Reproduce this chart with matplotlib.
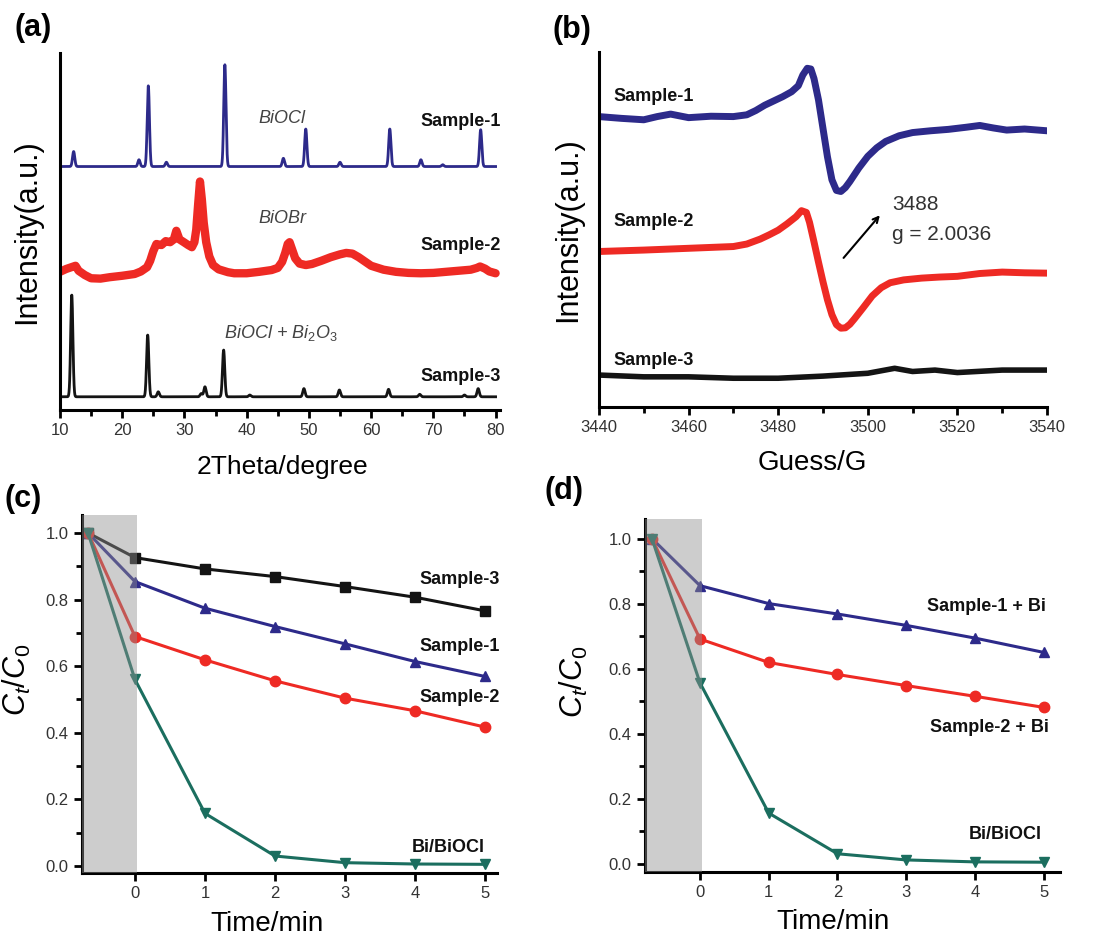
import numpy as np
import matplotlib.pyplot as plt
from matplotlib.ticker import MultipleLocator

plt.rcParams['font.family'] = ['Liberation Sans', 'DejaVu Sans']
plt.rcParams['mathtext.fontset'] = 'custom'
plt.rcParams['mathtext.rm'] = 'Liberation Sans'
plt.rcParams['mathtext.it'] = 'Liberation Sans:italic'

BLUE = '#2d2a8a'
RED = '#ee2a24'
BLACK = '#141414'
TEAL = '#1b6e5f'

# ---- (a) XRD: peak positions / heights ----
s1_base = 68.2
s1_pos = [12.2, 22.7, 24.2, 27.1, 36.5, 45.9, 49.5, 55.0, 63.0, 68.0, 71.5, 77.6]
s1_h = [4.2, 1.9, 22.6, 1.2, 28.5, 2.3, 10.5, 1.2, 10.5, 1.9, 0.5, 10.3]
s3_base = 3.7
s3_pos = [11.9, 24.1, 25.8, 32.7, 33.3, 36.3, 40.5, 49.2, 54.9, 62.8, 67.8, 75.0, 77.2]
s3_h = [28.5, 17.3, 1.4, 0.9, 2.8, 13.1, 0.5, 2.3, 1.9, 2.1, 0.7, 0.5, 2.3]
s2_x = [10, 11, 12, 12.5, 13, 14, 15, 16.5, 18, 20, 22, 23, 24, 24.5, 25, 25.5, 26.3, 27,
        27.7, 28.3, 28.7, 29.2, 30, 30.6, 31.2, 31.6, 31.9, 32.2, 32.5, 32.8, 33.1, 33.5,
        34, 34.6, 35.5, 37, 38, 40, 42, 44, 45, 45.7, 46.2, 46.6, 46.9, 47.3, 47.8, 48.5,
        49.5, 50.5, 52, 53.5, 55, 56, 57, 58, 59, 60, 62, 64, 66, 68, 70, 72, 74, 76,
        77, 77.5, 78.3, 79, 80]
s2_y = [38.7, 39.5, 40.1, 40.4, 39.0, 37.8, 36.9, 36.8, 37.2, 37.6, 38.1, 38.8, 40.0,
        41.8, 44.5, 46.5, 46.2, 47.3, 47.0, 47.8, 50.2, 47.8, 46.9, 46.2, 45.6, 47.0,
        50.5, 57.5, 64.0, 59.0, 52.5, 47.0, 43.0, 40.6, 39.4, 38.6, 38.3, 38.3, 38.7,
        39.2, 39.8, 41.5, 44.0, 46.5, 47.0, 45.0, 42.5, 41.0, 40.6, 40.9, 41.8, 42.8,
        43.6, 44.0, 43.8, 42.8, 41.6, 40.4, 39.3, 38.7, 38.4, 38.3, 38.4, 38.7, 39.0,
        39.3, 39.8, 40.2, 39.6, 38.8, 38.3]

# ---- (b) EPR traces ----
epr1_x = [3440, 3445, 3450, 3453, 3456, 3460, 3465, 3470, 3473, 3475, 3477, 3479, 3481,
          3483, 3484.5, 3485.5, 3486.5, 3487.3, 3488, 3489, 3490, 3491, 3492, 3493, 3494,
          3495, 3496, 3498, 3500, 3502, 3504, 3507, 3510, 3514, 3518, 3522, 3525, 3528,
          3531, 3535, 3540]
epr1_y = [81.8, 81.3, 80.9, 81.8, 82.5, 81.5, 81.9, 81.8, 82.3, 83.5, 85.0, 86.2, 87.4,
          88.8, 90.5, 93.5, 95.4, 95.2, 92.5, 86.5, 78.5, 70.5, 64.0, 61.0, 60.7, 61.8,
          63.5, 67.3, 70.6, 73.0, 74.8, 76.4, 77.3, 77.8, 78.2, 78.8, 79.3, 78.6, 78.0,
          78.3, 77.8]
epr2_x = [3440, 3450, 3460, 3470, 3473, 3476, 3478, 3480, 3482, 3484, 3485.2, 3486.3,
          3487, 3488, 3489, 3490, 3491, 3492, 3493, 3494, 3495, 3496, 3497, 3499, 3501,
          3503, 3505, 3508, 3512, 3516, 3520, 3525, 3530, 3535, 3540]
epr2_y = [43.8, 44.2, 44.7, 45.2, 45.9, 47.3, 48.5, 49.8, 51.6, 53.6, 55.3, 54.8, 52.0,
          46.5, 40.8, 35.3, 30.2, 26.0, 23.2, 22.2, 22.3, 23.3, 24.8, 28.0, 31.3, 33.6,
          35.0, 35.8, 36.3, 36.6, 36.8, 37.6, 38.0, 37.8, 37.7]
epr3_x = [3440, 3450, 3460, 3470, 3480, 3490, 3500, 3506, 3510, 3515, 3520, 3530, 3540]
epr3_y = [9.0, 8.5, 8.5, 8.1, 8.1, 8.7, 9.5, 10.9, 10.0, 10.4, 9.7, 10.4, 10.4]

# ---- (c) / (d) degradation ----
t_c = [-0.67, 0, 1, 2, 3, 4, 5]
c_s3 = [1.0, 0.926, 0.892, 0.869, 0.839, 0.807, 0.766]
c_s1 = [1.0, 0.854, 0.774, 0.719, 0.667, 0.614, 0.569]
c_s2 = [1.0, 0.689, 0.619, 0.556, 0.504, 0.466, 0.417]
c_bi = [1.0, 0.560, 0.158, 0.030, 0.010, 0.006, 0.005]

t_d = [-0.70, 0, 1, 2, 3, 4, 5]
d_s1 = [1.0, 0.855, 0.800, 0.768, 0.733, 0.694, 0.650]
d_s2 = [1.0, 0.691, 0.619, 0.582, 0.548, 0.515, 0.481]
d_bi = [1.0, 0.556, 0.156, 0.031, 0.012, 0.006, 0.005]


def xrd_profile(x, base, pos, h, w=0.18):
    y = np.full_like(x, base)
    for p, a in zip(pos, h):
        y += a * np.exp(-0.5 * ((x - p) / w) ** 2)
    return y


def style_axes(ax, fs=12):
    for s in ['top', 'right']:
        ax.spines[s].set_visible(False)
    for s in ['left', 'bottom']:
        ax.spines[s].set_linewidth(2.2)
    ax.tick_params(which='major', direction='out', length=6, width=2, labelsize=fs,
                   labelcolor='#333333')
    ax.tick_params(which='minor', direction='out', length=4, width=2)


fig = plt.figure(figsize=(11, 9.38), dpi=100)

# (a)
ax = fig.add_axes([0.0545, 0.5629, 0.4, 0.3806])
style_axes(ax)
xx = np.linspace(10, 80, 4000)
ax.plot(xx, xrd_profile(xx, s1_base, s1_pos, s1_h), color=BLUE, lw=2)
ax.plot(s2_x, s2_y, color=RED, lw=6, solid_joinstyle='round', solid_capstyle='round')
ax.plot(xx, xrd_profile(xx, s3_base, s3_pos, s3_h), color=BLACK, lw=2)
ax.set_xlim(10, 80.7)
ax.set_ylim(0, 100)
ax.set_yticks([])
ax.xaxis.set_major_locator(MultipleLocator(10))
ax.xaxis.set_minor_locator(MultipleLocator(5))
ax.text(45.7, 81.7, 'BiOCl', style='italic', fontsize=13, color='#444444', ha='center', va='center')
ax.text(45.7, 53.7, 'BiOBr', style='italic', fontsize=13, color='#444444', ha='center', va='center')
ax.text(45.5, 21.5, r'BiOCl + Bi$_2$O$_3$', style='italic', fontsize=13, color='#444444',
        ha='center', va='center')
for lab, yy in [('Sample-1', 80.8), ('Sample-2', 46.2), ('Sample-3', 9.3)]:
    ax.text(80.8, yy, lab, fontsize=13, fontweight='bold', ha='right', va='center', color='#111111')
ax.set_xlabel('2Theta/degree', fontsize=19)
ax.xaxis.set_label_coords(0.505, -0.125)
ax.set_ylabel('Intensity(a.u.)', fontsize=22)
ax.yaxis.set_label_coords(-0.041, 0.5)

# (b)
ax = fig.add_axes([0.5445, 0.5661, 0.4073, 0.3785])
style_axes(ax)
ax.plot(epr1_x, epr1_y, color=BLUE, lw=5, solid_joinstyle='round', solid_capstyle='round')
ax.plot(epr2_x, epr2_y, color=RED, lw=5, solid_joinstyle='round', solid_capstyle='round')
ax.plot(epr3_x, epr3_y, color=BLACK, lw=4, solid_joinstyle='round', solid_capstyle='round')
ax.set_xlim(3440, 3540)
ax.set_ylim(0, 100)
ax.set_yticks([])
ax.xaxis.set_major_locator(MultipleLocator(20))
ax.xaxis.set_minor_locator(MultipleLocator(10))
for lab, yy in [('Sample-1', 87.4), ('Sample-2', 52.2), ('Sample-3', 13.2)]:
    ax.text(3443.3, yy, lab, fontsize=13, fontweight='bold', ha='left', va='center', color='#111111')
ax.annotate('', xy=(3503.1, 54.6), xytext=(3494.2, 41.4),
            arrowprops=dict(arrowstyle='->', color='black', lw=1.5))
ax.text(3505.4, 56.9, '3488', fontsize=15, color='#333333', ha='left', va='center')
ax.text(3505.4, 48.5, 'g = 2.0036', fontsize=15, color='#333333', ha='left', va='center')
ax.set_xlabel('Guess/G', fontsize=20)
ax.xaxis.set_label_coords(0.477, -0.121)
ax.set_ylabel('Intensity(a.u.)', fontsize=22)
ax.yaxis.set_label_coords(-0.036, 0.5)


def degradation(ax, t, series, labels, xlim, ylim):
    style_axes(ax)
    for ys, col, mk in series:
        ax.plot(t, ys, color=col, lw=2.2, marker=mk, ms=7.5, zorder=2)
    ax.axvspan(xlim[0], 0.03, color='#909090', alpha=0.45, lw=0, zorder=3)
    ax.set_xlim(*xlim)
    ax.set_ylim(*ylim)
    ax.set_xticks([0, 1, 2, 3, 4, 5])
    ax.yaxis.set_major_locator(MultipleLocator(0.2))
    ax.yaxis.set_minor_locator(MultipleLocator(0.1))
    ax.yaxis.set_major_formatter(lambda v, p: f'{v:.1f}')
    for lab, x, y in labels:
        ax.text(x, y, lab, fontsize=13, fontweight='bold', ha='right', va='center', color='#111111')
    ax.set_xlabel('Time/min', fontsize=20)
    ax.set_ylabel(r'$\mathit{C}_{\mathit{t}}/\mathit{C}_{0}$', fontsize=22)


# (c)
ax = fig.add_axes([0.0745, 0.0693, 0.3773, 0.3817])
degradation(ax, t_c,
            [(c_s3, BLACK, 's'), (c_s1, BLUE, '^'), (c_s2, RED, 'o'), (c_bi, TEAL, 'v')],
            [('Sample-3', 5.21, 0.86), ('Sample-1', 5.21, 0.66), ('Sample-2', 5.21, 0.505),
             ('Bi/BiOCl', 5.0, 0.057)],
            (-0.757, 5.17), (-0.021, 1.054))
ax.xaxis.set_label_coords(0.447, -0.105)
ax.yaxis.set_label_coords(-0.118, 0.54)

# (d)
ax = fig.add_axes([0.5864, 0.0704, 0.3773, 0.3763])
degradation(ax, t_d,
            [(d_s1, BLUE, '^'), (d_s2, RED, 'o'), (d_bi, TEAL, 'v')],
            [('Sample-1 + Bi', 5.04, 0.79), ('Sample-2 + Bi', 5.08, 0.42), ('Bi/BiOCl', 4.97, 0.09)],
            (-0.8, 5.24), (-0.025, 1.06))
ax.xaxis.set_label_coords(0.453, -0.106)
ax.yaxis.set_label_coords(-0.133, 0.54)

for lab, x, y in [('(a)', 15, 28), ('(b)', 553, 30), ('(c)', 5, 499), ('(d)', 545, 491)]:
    fig.text(x / 1100, 1 - y / 938, lab, fontsize=22, fontweight='bold', ha='left', va='center')

fig.savefig('out.png', dpi=100, facecolor='white')
